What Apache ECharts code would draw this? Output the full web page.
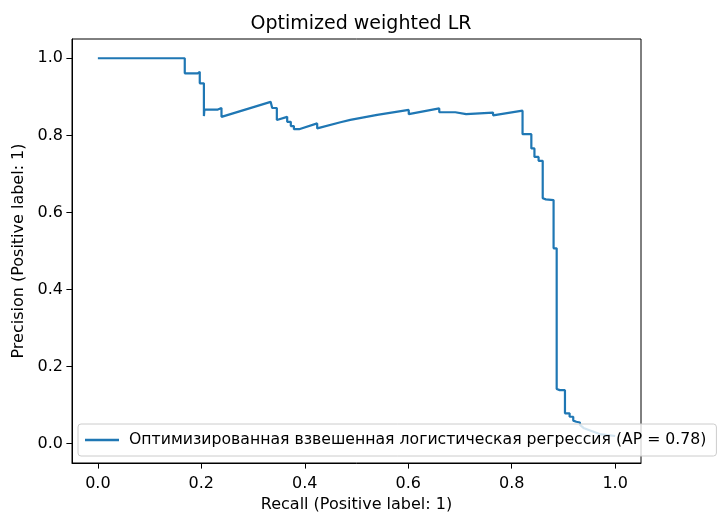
<!DOCTYPE html>
<html>
<head>
<meta charset="utf-8">
<script src="https://cdn.jsdelivr.net/npm/echarts@6/dist/echarts.min.js"></script>
<style>
  html, body { margin: 0; padding: 0; background: #fff; }
  #main { width: 723px; height: 512px; }
</style>
</head>
<body>
<div id="main"></div>
<script>
// PR curve (recall, precision), corners of each step included
var recall = [
  0.0, 0.168, 0.168, 0.193, 0.193, 0.197, 0.197, 0.205, 0.205, 0.206,
  0.232, 0.232, 0.239, 0.239, 0.334, 0.337, 0.346, 0.346, 0.366, 0.366,
  0.373, 0.373, 0.379, 0.379, 0.389, 0.424, 0.424, 0.469, 0.488, 0.54,
  0.601, 0.601, 0.660, 0.660, 0.691, 0.691, 0.712, 0.712, 0.764, 0.764,
  0.821, 0.821, 0.838, 0.838, 0.844, 0.844, 0.852, 0.852, 0.860, 0.860,
  0.866, 0.881, 0.881, 0.887, 0.887, 0.893, 0.903, 0.903, 0.912, 0.912,
  0.919, 0.919, 0.925, 0.932, 0.932, 0.94, 0.97, 1.0
];
var precision = [
  1.0, 1.0, 0.961, 0.961, 0.965, 0.965, 0.935, 0.935, 0.850, 0.867,
  0.867, 0.871, 0.871, 0.848, 0.887, 0.871, 0.871, 0.840, 0.848, 0.835,
  0.835, 0.824, 0.824, 0.816, 0.816, 0.831, 0.818, 0.834, 0.840, 0.853,
  0.866, 0.855, 0.870, 0.860, 0.860, 0.855, 0.855, 0.850, 0.859, 0.852,
  0.864, 0.803, 0.803, 0.766, 0.766, 0.744, 0.744, 0.734, 0.734, 0.637,
  0.634, 0.632, 0.507, 0.507, 0.142, 0.139, 0.139, 0.079, 0.079, 0.070,
  0.070, 0.060, 0.057, 0.055, 0.049, 0.040, 0.025, 0.02
];
var xTicks = [0.0, 0.2, 0.4, 0.6, 0.8, 1.0];
var yTicks = [0.0, 0.2, 0.4, 0.6, 0.8, 1.0];
var seriesName = "Оптимизированная взвешенная логистическая регрессия (AP = 0.78)";

var points = [];
for (var i = 0; i < recall.length; i++) {
  points.push([recall[i], precision[i]]);
}

var font = "DejaVu Sans";
var myChart = echarts.init(document.getElementById("main"));
var option = {
  animation: false,
  textStyle: { fontFamily: font },
  title: {
    text: "Optimized weighted LR",
    left: 356,
    top: 10,
    textAlign: "center",
    textStyle: { fontFamily: font, fontSize: 19, fontWeight: "normal", color: "#000" }
  },
  grid: {
    left: 72,
    right: 82,
    top: 39,
    bottom: 49,
    outerBoundsMode: "none",
    containLabel: false,
    show: true,
    borderColor: "#000",
    borderWidth: 1
  },
  legend: {
    left: 78,
    top: 424,
    data: [seriesName],
    icon: "rect",
    itemWidth: 34,
    itemHeight: 2.4,
    itemGap: 8,
    padding: [8, 10, 8, 7],
    backgroundColor: "rgba(255,255,255,0.8)",
    borderColor: "#cccccc",
    borderWidth: 1,
    borderRadius: 3,
    textStyle: { fontFamily: font, fontSize: 15.7, color: "#000", padding: [0, 0, 0, 5] }
  },
  xAxis: {
    type: "value",
    min: -0.05,
    max: 1.05,
    name: "Recall (Positive label: 1)",
    nameLocation: "middle",
    nameGap: 33,
    nameTextStyle: { fontFamily: font, fontSize: 16, color: "#000" },
    splitLine: { show: false },
    axisLine: { show: true, onZero: false, lineStyle: { color: "#000", width: 1 } },
    axisTick: { show: true, length: 5.6, customValues: xTicks, lineStyle: { color: "#000" } },
    axisLabel: {
      customValues: xTicks,
      margin: 13,
      fontSize: 16,
      color: "#000",
      fontFamily: font,
      formatter: function (v) { return v.toFixed(1); }
    }
  },
  yAxis: {
    type: "value",
    min: -0.05,
    max: 1.05,
    name: "Precision (Positive label: 1)",
    nameLocation: "middle",
    nameRotate: 90,
    nameGap: 44,
    nameTextStyle: { fontFamily: font, fontSize: 16, color: "#000" },
    splitLine: { show: false },
    axisLine: { show: true, onZero: false, lineStyle: { color: "#000", width: 1 } },
    axisTick: { show: true, length: 5.6, customValues: yTicks, lineStyle: { color: "#000" } },
    axisLabel: {
      customValues: yTicks,
      margin: 9,
      fontSize: 16,
      color: "#000",
      fontFamily: font,
      formatter: function (v) { return v.toFixed(1); }
    }
  },
  series: [
    {
      name: seriesName,
      type: "line",
      data: points,
      showSymbol: false,
      symbol: "none",
      color: "#1f77b4",
      lineStyle: { color: "#1f77b4", width: 2.2 }
    }
  ]
};
myChart.setOption(option);
</script>
</body>
</html>
